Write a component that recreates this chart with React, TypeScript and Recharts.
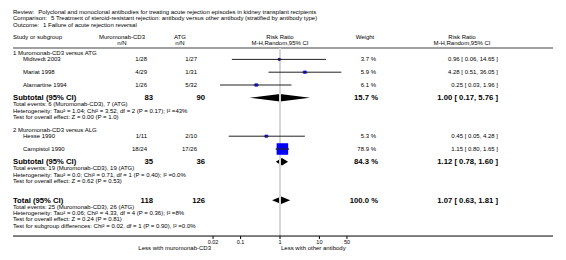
import { Area, ComposedChart, ErrorBar, ReferenceLine, Scatter, XAxis, YAxis } from 'recharts'

const W = 566
const H = 260
const FONT = '"Liberation Sans", Arial, sans-serif'

// plot geometry: line of no effect at x=280, ~39.4px per decade, axis line runs 13..553
const PLOT_LEFT = 13
const PLOT_RIGHT = 553
const NULL_X = 280
const DECADE = 39.4
const X_MIN = Math.pow(10, (PLOT_LEFT - NULL_X) / DECADE)
const X_MAX = Math.pow(10, (PLOT_RIGHT - NULL_X) / DECADE)

// rows are counted in text lines from the first group header
const TOP = 53
const LINE = 6.4
const Y_MIN = -7
const Y_MAX = 28.6
const SEPARATOR_ROW = -0.8
const rowY = (r: number) => TOP + r * LINE

const studyNames = ['Midtvedt 2003', 'Mariat 1998', 'Alamartine 1994', 'Hesse 1990', 'Campistol 1990']
const studyRow = [1, 3, 5, 13, 15]
const expEvents = [1, 4, 1, 1, 18]
const expTotal = [28, 29, 26, 11, 24]
const ctlEvents = [1, 1, 5, 2, 17]
const ctlTotal = [27, 31, 32, 10, 26]
const studyWeight = [3.7, 5.9, 6.1, 5.3, 78.9]
const studyRR = [0.96, 4.28, 0.25, 0.45, 1.15]
const studyLow = [0.06, 0.51, 0.03, 0.05, 0.8]
const studyHigh = [14.65, 36.05, 1.96, 4.28, 1.65]

const groupTitles = ['1 Muromonab-CD3 versus ATG', '2 Muromonab-CD3 versus ALG']
const groupRow = [0, 12]

const pooledLabels = ['Subtotal (95% CI)', 'Subtotal (95% CI)', 'Total (95% CI)']
const pooledRow = [7, 17, 23]
const pooledExpTotal = [83, 35, 118]
const pooledCtlTotal = [90, 36, 126]
const pooledWeight = [15.7, 84.3, 100.0]
const pooledRR = [1.0, 1.12, 1.07]
const pooledLow = [0.17, 0.78, 0.63]
const pooledHigh = [5.76, 1.6, 1.81]

const statLines = [
  [
    'Total events: 6 (Muromonab-CD3), 7 (ATG)',
    'Heterogeneity: Tau² = 1.04; Chi² = 3.52, df = 2 (P = 0.17); I² =43%',
    'Test for overall effect: Z = 0.00 (P = 1.0)',
  ],
  [
    'Total events: 19 (Muromonab-CD3), 19 (ATG)',
    'Heterogeneity: Tau² = 0.0; Chi² = 0.71, df = 1 (P = 0.40); I² =0.0%',
    'Test for overall effect: Z = 0.62 (P = 0.53)',
  ],
  [
    'Total events: 25 (Muromonab-CD3), 26 (ATG)',
    'Heterogeneity: Tau² = 0.06; Chi² = 4.33, df = 4 (P = 0.36); I² =8%',
    'Test for overall effect: Z = 0.24 (P = 0.81)',
    'Test for subgroup differences: Chi² = 0.02, df = 1 (P = 0.90), I² =0.0%',
  ],
]

const axisTicks = [0.02, 0.1, 1, 10, 50]
const favoursLeft = 'Less with muromonab-CD3'
const favoursRight = 'Less with other antibody'

const headerLines = [
  ['Review:', 'Polyclonal and monoclonal antibodies for treating acute rejection episodes in kidney transplant recipients'],
  ['Comparison:', '5 Treatment of steroid-resistant rejection: antibody versus other antibody (stratified by antibody type)'],
  ['Outcome:', '1 Failure of acute rejection reversal'],
]

const DIAMOND_HALF = 0.58

const studyPoints = studyNames.map((name, i) => ({
  name,
  x: studyRR[i],
  y: studyRow[i],
  w: studyWeight[i],
  err: [studyRR[i] - studyLow[i], studyHigh[i] - studyRR[i]],
}))

const diamondData = (i: number) => [
  { x: pooledLow[i], band: [pooledRow[i], pooledRow[i]] },
  { x: pooledRR[i], band: [pooledRow[i] - DIAMOND_HALF, pooledRow[i] + DIAMOND_HALF] },
  { x: pooledHigh[i], band: [pooledRow[i], pooledRow[i]] },
]

function StudySquare(props: any) {
  const { cx, cy, payload } = props
  if (cx == null || cy == null) return null
  const s = 1.3 * Math.sqrt(payload.w)
  return (
    <g>
      <rect x={cx - s / 2} y={cy - s / 2} width={s} height={s} fill="#0000ff" />
      <line x1={cx - s / 2 - 1} x2={cx + s / 2 + 1} y1={cy} y2={cy} stroke="#222" strokeWidth={1} />
      {(s > 6 || s < 2.6) && <line x1={cx} x2={cx} y1={cy - 1.5} y2={cy + 1.5} stroke="#222" strokeWidth={1} />}
    </g>
  )
}

function T({ x, y, anchor = 'start', bold = false, size = 6, children }: any) {
  return (
    <text
      x={x}
      y={y}
      textAnchor={anchor}
      dominantBaseline="central"
      fontFamily={FONT}
      fontSize={bold ? 7.7 : size}
      fontWeight={bold ? 'bold' : 'normal'}
      fill="#000"
    >
      {children}
    </text>
  )
}

const fmtCI = (rr: number, lo: number, hi: number) => `${rr.toFixed(2)} [ ${lo.toFixed(2)}, ${hi.toFixed(2)} ]`

export default function App() {
  const axisY = rowY(Y_MAX)
  return (
    <div style={{ position: 'absolute', left: 0, top: 0, width: W, height: H, background: '#fff' }}>
      <ComposedChart
        width={W}
        height={H}
        margin={{ top: rowY(Y_MIN), right: W - PLOT_RIGHT, bottom: 0, left: PLOT_LEFT }}
      >
        <XAxis
          type="number"
          dataKey="x"
          scale="log"
          domain={[X_MIN, X_MAX]}
          allowDataOverflow
          ticks={axisTicks}
          interval={0}
          tickFormatter={(v) => String(v)}
          tickSize={3}
          tickMargin={1}
          height={H - axisY}
          axisLine={{ stroke: '#000' }}
          tickLine={{ stroke: '#000' }}
          tick={{ fontSize: 5.5, fill: '#000', fontFamily: FONT }}
        />
        <YAxis type="number" dataKey="y" domain={[Y_MIN, Y_MAX]} reversed hide allowDataOverflow />
        <ReferenceLine y={SEPARATOR_ROW} stroke="#a0a0a0" strokeWidth={2} />
        <ReferenceLine
          segment={[
            { x: 1, y: SEPARATOR_ROW },
            { x: 1, y: Y_MAX },
          ]}
          stroke="#d6d6d6"
          strokeWidth={2}
        />
        {pooledRR.map((_, i) => (
          <Area
            key={`diamond-${i}`}
            data={diamondData(i)}
            dataKey="band"
            type="linear"
            stroke="none"
            fill="#000"
            fillOpacity={1}
            dot={false}
            activeDot={false}
            isAnimationActive={false}
          />
        ))}
        <Scatter data={studyPoints} shape={(p: any) => <StudySquare {...p} />} isAnimationActive={false}>
          <ErrorBar dataKey="err" direction="x" width={0} stroke="#222" strokeWidth={1} />
        </Scatter>
      </ComposedChart>
      <svg width={W} height={H} style={{ position: 'absolute', left: 0, top: 0, pointerEvents: 'none' }}>
        {headerLines.map(([label, value], i) => (
          <text key={label} x={13} y={rowY(-6.4 + i)} dominantBaseline="central" fontFamily={FONT} fontSize={6} fill="#000">
            <tspan>{label}</tspan>
            <tspan dx={4}>{value}</tspan>
          </text>
        ))}
        <T x={13} y={rowY(-2.5)}>Study or subgroup</T>
        <T x={122} y={rowY(-2.5)} anchor="middle">Muromonab-CD3</T>
        <T x={122} y={rowY(-1.55)} anchor="middle">n/N</T>
        <T x={180} y={rowY(-2.5)} anchor="middle">ATG</T>
        <T x={180} y={rowY(-1.55)} anchor="middle">n/N</T>
        <T x={NULL_X} y={rowY(-2.5)} anchor="middle">Risk Ratio</T>
        <T x={NULL_X} y={rowY(-1.55)} anchor="middle">M-H,Random,95% CI</T>
        <T x={365} y={rowY(-2.5)} anchor="middle">Weight</T>
        <T x={462} y={rowY(-2.5)} anchor="middle">Risk Ratio</T>
        <T x={462} y={rowY(-1.55)} anchor="middle">M-H,Random,95% CI</T>

        {groupTitles.map((g, i) => (
          <T key={g} x={13} y={rowY(groupRow[i])}>{g}</T>
        ))}
        {studyNames.map((name, i) => (
          <g key={name}>
            <T x={23} y={rowY(studyRow[i])}>{name}</T>
            <T x={147} y={rowY(studyRow[i])} anchor="end">{`${expEvents[i]}/${expTotal[i]}`}</T>
            <T x={197} y={rowY(studyRow[i])} anchor="end">{`${ctlEvents[i]}/${ctlTotal[i]}`}</T>
            <T x={376} y={rowY(studyRow[i])} anchor="end">{`${studyWeight[i].toFixed(1)} %`}</T>
            <T x={498} y={rowY(studyRow[i])} anchor="end">{fmtCI(studyRR[i], studyLow[i], studyHigh[i])}</T>
          </g>
        ))}
        {pooledLabels.map((label, i) => (
          <g key={`pooled-${i}`}>
            <T x={13} y={rowY(pooledRow[i])} bold>{label}</T>
            <T x={153} y={rowY(pooledRow[i])} anchor="end" bold>{pooledExpTotal[i]}</T>
            <T x={205} y={rowY(pooledRow[i])} anchor="end" bold>{pooledCtlTotal[i]}</T>
            <T x={378} y={rowY(pooledRow[i])} anchor="end" bold>{`${pooledWeight[i].toFixed(1)} %`}</T>
            <T x={498} y={rowY(pooledRow[i])} anchor="end" bold>{fmtCI(pooledRR[i], pooledLow[i], pooledHigh[i])}</T>
            {statLines[i].map((s, j) => (
              <T key={s} x={13} y={rowY(pooledRow[i] + 1 + j)}>{s}</T>
            ))}
          </g>
        ))}
        <T x={211} y={axisY + 12} anchor="end">{favoursLeft}</T>
        <T x={281} y={axisY + 12}>{favoursRight}</T>
      </svg>
    </div>
  )
}
